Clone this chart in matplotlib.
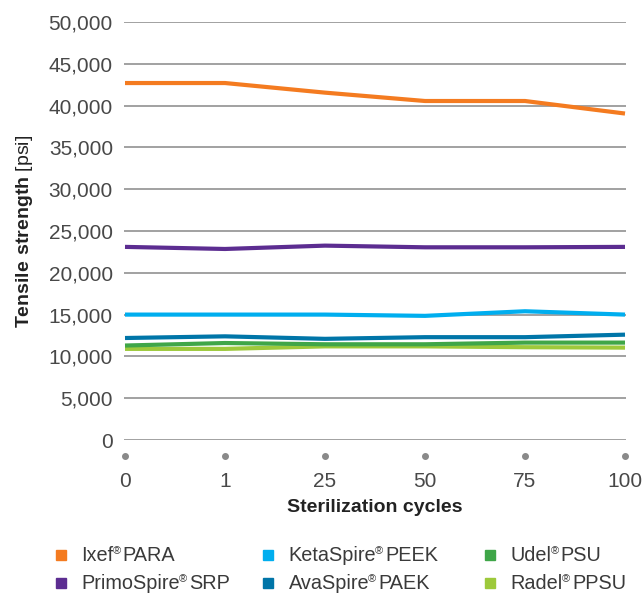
import numpy as np
import matplotlib
matplotlib.use('Agg')
import matplotlib.pyplot as plt
import matplotlib.transforms as mtransforms
from matplotlib.lines import Line2D
from matplotlib.ticker import FuncFormatter

plt.rcParams['font.family'] = ['Liberation Sans', 'DejaVu Sans']
plt.rcParams['mathtext.fontset'] = 'custom'
plt.rcParams['mathtext.rm'] = 'Liberation Sans'
plt.rcParams['mathtext.bf'] = 'Liberation Sans:bold'

##################################################################
# tensile strength [psi] after n sterilization cycles

cycles = ['0', '1', '25', '50', '75', '100']
ixef = [42700, 42700, 41550, 40550, 40550, 39050]
primospire = [23100, 22850, 23250, 23050, 23050, 23100]
ketaspire = [15000, 15000, 15000, 14850, 15400, 15000]
avaspire = [12200, 12400, 12100, 12300, 12300, 12600]
udel = [11300, 11600, 11450, 11450, 11650, 11650]
radel = [10900, 10900, 11200, 11200, 11100, 11050]

names = ['Ixef® PARA', 'PrimoSpire® SRP', 'KetaSpire® PEEK',
         'AvaSpire® PAEK', 'Udel® PSU', 'Radel® PPSU']
data = [ixef, primospire, ketaspire, avaspire, udel, radel]
colors = ['#F47B20', '#5C2D91', '#00AEEF', '#0075A8', '#3FA648', '#9DC93B']

W, H = 643, 596
fig = plt.figure(figsize=(W/100., H/100.), dpi=100)
ax = fig.add_axes([124./W, 1 - 440./H, 502./W, 418./H])

x = np.arange(len(cycles))

for yv in range(0, 50001, 5000):
    ax.axhline(yv, color='#9a9a9a', lw=1.3, zorder=1)

# bottom series first so the top ones overlay
for vals, col in reversed(list(zip(data, colors))):
    ax.plot(x, vals, color=col, lw=3, solid_capstyle='butt', zorder=3)

# grey dots under each category
trans = mtransforms.blended_transform_factory(ax.transData, ax.transAxes)
ax.plot(x, np.full(len(x), -0.038), 'o', color='#8a8a8a', ms=4,
        transform=trans, clip_on=False)

ax.set_xlim(-0.01, 5.01)
ax.set_ylim(0, 50000)
ax.set_xticks(x)
ax.set_xticklabels(cycles)
ax.set_yticks(range(0, 50001, 5000))
ax.yaxis.set_major_formatter(FuncFormatter(lambda v, p: '{:,.0f}'.format(v)))
ax.tick_params(axis='x', length=0, pad=23, labelsize=15, labelcolor='#484848')
ax.tick_params(axis='y', length=0, pad=8, labelsize=15, labelcolor='#484848')
for s in ax.spines.values():
    s.set_visible(False)

ax.set_xlabel('Sterilization cycles', fontsize=14, fontweight='bold',
              color='#222222', labelpad=6)
ax.set_ylabel(r'$\bf{Tensile\ strength}$ [psi]', fontsize=14,
              color='#222222', labelpad=10)

# legend drawn by hand: 3 columns x 2 rows, small raised (R) mark
col_x = [61, 268, 490]
row_base = [561, 589]
tc = '#3a3a3a'
fs = 14.3
for i, (name, col) in enumerate(zip(names, colors)):
    c, r = i // 2, i % 2
    mx = col_x[c]
    by = H - row_base[r]
    fig.add_artist(Line2D([mx], [by + 6.5], marker='s', ms=6.8, ls='', color=col,
                          transform=None))
    pre, post = name.split('®')
    t1 = fig.text((mx + 20.5)/W, by/H, pre, fontsize=fs, va='baseline', color=tc)
    fig.canvas.draw()
    bb = t1.get_window_extent()
    t2 = fig.text((bb.x1 - 1)/W, (by + 6.5)/H, '®', fontsize=8,
                  va='baseline', color=tc)
    fig.canvas.draw()
    bb2 = t2.get_window_extent()
    fig.text((bb2.x1 + 2)/W, by/H, post.strip(), fontsize=fs, va='baseline', color=tc)

plt.savefig('out.png', dpi=100)
